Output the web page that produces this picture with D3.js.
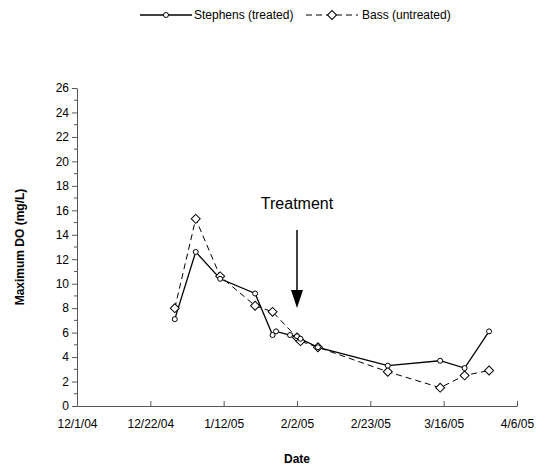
<!DOCTYPE html>
<html><head><meta charset="utf-8">
<script src="https://cdn.jsdelivr.net/npm/d3@7"></script>
<style>body{margin:0;background:#fff;font-family:"Liberation Sans",Arial,sans-serif;}</style>
</head><body>
<script>
// data
var stephensDates = ["2004-12-29","2005-01-04","2005-01-11","2005-01-21","2005-01-26","2005-01-27","2005-01-31","2005-02-02","2005-02-03","2005-02-08","2005-02-28","2005-03-15","2005-03-22","2005-03-29"];
var stephensDO = [7.1, 12.6, 10.4, 9.2, 5.8, 6.1, 5.8, 5.7, 5.5, 4.8, 3.3, 3.7, 3.1, 6.1];
var bassDates = ["2004-12-29","2005-01-04","2005-01-11","2005-01-21","2005-01-26","2005-02-02","2005-02-03","2005-02-08","2005-02-28","2005-03-15","2005-03-22","2005-03-29"];
var bassDO = [8.0, 15.3, 10.6, 8.2, 7.7, 5.6, 5.3, 4.8, 2.8, 1.5, 2.5, 2.9];
var tickDates = ["2004-12-01","2004-12-22","2005-01-12","2005-02-02","2005-02-23","2005-03-16","2005-04-06"];

var w = 555, h = 473;
var parse = d3.timeParse("%Y-%m-%d");
var fmt = function(d) { return (d.getMonth()+1) + "/" + d.getDate() + "/" + d3.timeFormat("%y")(d); };

var x = d3.scaleTime().domain([parse(tickDates[0]), parse(tickDates[6])]).range([77, 517]);
var y = d3.scaleLinear().domain([0, 26]).range([406, 88]);

var svg = d3.select("body").append("svg").attr("width", w).attr("height", h)
  .style("font-family", "'Liberation Sans', Arial, sans-serif");

// axes
var xAxis = d3.axisBottom(x).tickValues(tickDates.map(parse)).tickFormat(fmt).tickSize(-5).tickSizeOuter(0);
var gx = svg.append("g").attr("transform", "translate(0,406)").call(xAxis);
gx.selectAll("text").attr("dy", "1.6em").style("font-size", "12px");

var yAxis = d3.axisLeft(y).tickValues(d3.range(0, 27, 2)).tickSize(5).tickSizeOuter(0);
var gy = svg.append("g").attr("transform", "translate(77,0)").call(yAxis);
gy.selectAll("text").style("font-size", "12px");
// minor ticks
svg.append("g").selectAll("line").data(d3.range(1, 26, 2)).enter().append("line")
  .attr("x1", 74).attr("x2", 77).attr("y1", y).attr("y2", y).attr("stroke", "#555");
svg.selectAll(".domain, .tick line").attr("stroke", "#555");

svg.append("text").attr("x", 297).attr("y", 463).attr("text-anchor", "middle")
  .style("font-size", "12px").style("font-weight", "bold").text("Date");
svg.append("text").attr("transform", "translate(24,247) rotate(-90)").attr("text-anchor", "middle")
  .style("font-size", "12px").style("font-weight", "bold").text("Maximum DO (mg/L)");

// series
var s = stephensDates.map(function(d, i) { return {x: parse(d), y: stephensDO[i]}; });
var b = bassDates.map(function(d, i) { return {x: parse(d), y: bassDO[i]}; });
var line = d3.line().x(function(d) { return x(d.x); }).y(function(d) { return y(d.y); });

svg.append("path").datum(b).attr("d", line).attr("fill", "none").attr("stroke", "#000")
  .attr("stroke-width", 1).attr("stroke-dasharray", "6,4");
svg.append("path").datum(s).attr("d", line).attr("fill", "none").attr("stroke", "#000").attr("stroke-width", 1.3);

var diamond = d3.symbol().type(d3.symbolSquare).size(40);
svg.selectAll(".bd").data(b).enter().append("path")
  .attr("d", diamond).attr("transform", function(d) { return "translate(" + x(d.x) + "," + y(d.y) + ") rotate(45)"; })
  .attr("fill", "#fff").attr("stroke", "#000");
svg.selectAll(".sc").data(s).enter().append("circle")
  .attr("cx", function(d) { return x(d.x); }).attr("cy", function(d) { return y(d.y); })
  .attr("r", 2.5).attr("fill", "#fff").attr("stroke", "#000");

// treatment arrow
var tx = x(parse("2005-02-02"));
svg.append("text").attr("x", tx).attr("y", 209).attr("text-anchor", "middle").style("font-size", "16px").text("Treatment");
svg.append("line").attr("x1", tx).attr("x2", tx).attr("y1", 230).attr("y2", 292).attr("stroke", "#000").attr("stroke-width", 1.5);
svg.append("path").attr("d", "M" + (tx-6) + ",290 L" + (tx+6) + ",290 L" + tx + ",308 Z").attr("fill", "#000");

// legend
var lg = svg.append("g").style("font-size", "12px");
lg.append("line").attr("x1", 140).attr("x2", 192).attr("y1", 15).attr("y2", 15).attr("stroke", "#000").attr("stroke-width", 1.3);
lg.append("circle").attr("cx", 166).attr("cy", 15).attr("r", 2.5).attr("fill", "#fff").attr("stroke", "#000");
lg.append("text").attr("x", 194).attr("y", 19).text("Stephens (treated)");
lg.append("line").attr("x1", 306).attr("x2", 358).attr("y1", 15).attr("y2", 15).attr("stroke", "#000").attr("stroke-dasharray", "6,4");
lg.append("path").attr("d", diamond).attr("transform", "translate(332,15) rotate(45)").attr("fill", "#fff").attr("stroke", "#000");
lg.append("text").attr("x", 362).attr("y", 19).text("Bass (untreated)");
</script>
</body></html>
